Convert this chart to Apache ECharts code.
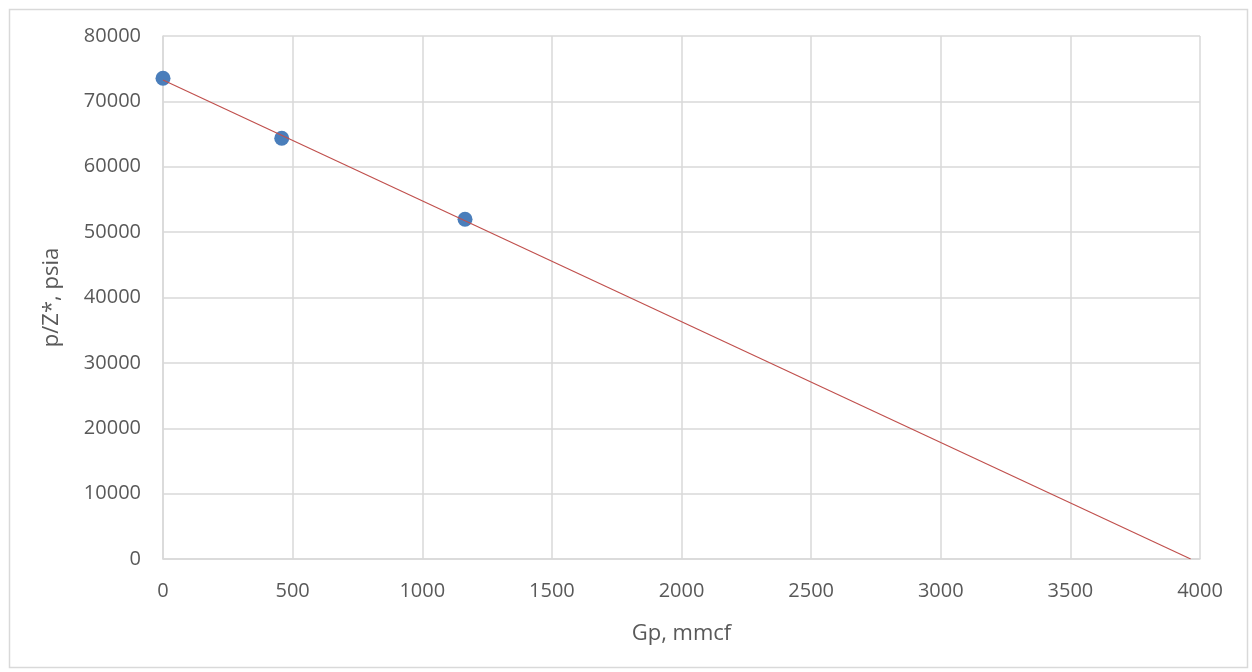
<!DOCTYPE html>
<html>
<head>
<meta charset="utf-8">
<script src="https://cdn.jsdelivr.net/npm/echarts@6/dist/echarts.min.js"></script>
<style>
html,body{margin:0;padding:0;background:#fff;}
#c{width:1252px;height:672px;}
</style>
</head>
<body>
<div id="c"></div>
<script>
// Measured data points
const gp = [0, 458, 1165];
const pz = [73530, 64352, 51962];
// Trend line endpoints
const trendGp = [0, 3964];
const trendPz = [73270, 0];
// Axis ticks
const xTicks = [0, 500, 1000, 1500, 2000, 2500, 3000, 3500, 4000];
const yTicks = [0, 10000, 20000, 30000, 40000, 50000, 60000, 70000, 80000];

const FONT = '"Open Sans", sans-serif';
const chart = echarts.init(document.getElementById('c'));
chart.setOption({
  animation: false,
  backgroundColor: '#fff',
  graphic: [{
    type: 'rect', left: 7, top: 7, z: -1,
    shape: { width: 1238, height: 658 },
    style: { fill: 'none', stroke: '#d9d9d9', lineWidth: 1.5 }
  }],
  grid: { left: 163, right: 52, top: 36, bottom: 113 },
  xAxis: {
    type: 'value', min: xTicks[0], max: xTicks[xTicks.length - 1], interval: 500,
    name: 'Gp, mmcf', nameLocation: 'middle', nameGap: 64,
    nameTextStyle: { fontFamily: FONT, fontSize: 22, color: '#595959' },
    axisLine: { show: true, lineStyle: { color: '#d9d9d9', width: 1.5 } },
    axisTick: { show: false },
    axisLabel: { fontFamily: FONT, fontSize: 20, color: '#595959', margin: 22,
      formatter: v => String(v) },
    splitLine: { show: true, lineStyle: { color: '#d9d9d9', width: 1.5 } }
  },
  yAxis: {
    type: 'value', min: yTicks[0], max: yTicks[yTicks.length - 1], interval: 10000,
    name: 'p/Z*, psia', nameLocation: 'middle', nameGap: 100, nameRotate: 90,
    nameTextStyle: { fontFamily: FONT, fontSize: 22, color: '#595959' },
    axisLine: { show: true, lineStyle: { color: '#d9d9d9', width: 1.5 } },
    axisTick: { show: false },
    axisLabel: { fontFamily: FONT, fontSize: 20, color: '#595959', margin: 22,
      formatter: v => String(v) },
    splitLine: { show: true, lineStyle: { color: '#d9d9d9', width: 1.5 } }
  },
  series: [
    {
      type: 'line',
      data: trendGp.map((x, i) => [x, trendPz[i]]),
      showSymbol: false, symbol: 'none',
      lineStyle: { color: '#c0504d', width: 1.2 },
      z: 3
    },
    {
      type: 'scatter',
      data: gp.map((x, i) => [x, pz[i]]),
      symbolSize: 15,
      itemStyle: { color: '#4a7ebb', opacity: 1 },
      z: 2
    }
  ]
});
</script>
</body>
</html>
